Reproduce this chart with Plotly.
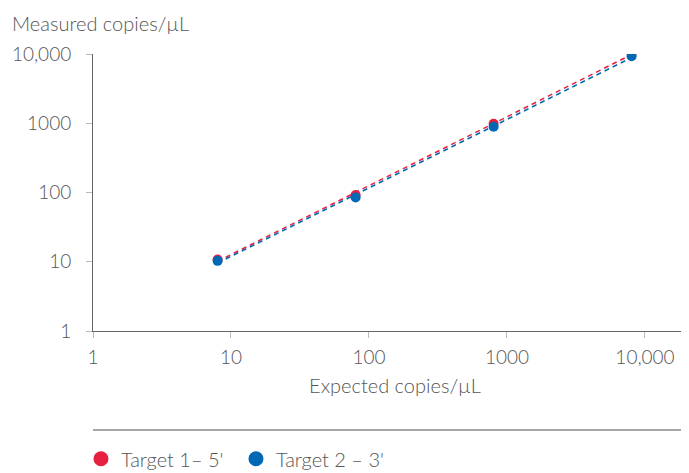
import numpy as np
import plotly.graph_objects as go

expected = [8, 80, 800, 8000]
target1 = [10.8, 92, 980, 10200]
target2 = [10.3, 85, 890, 9300]
names = ["Target 1– 5'", "Target 2 – 3'"]
colors = ["#E8203F", "#0068B5"]
tickvals = [1, 10, 100, 1000, 10000]
ticktext = ["1", "10", "100", "1000", "10,000"]

FONT = "Lato"
GREY = "#555555"
FS = 19

fig = go.Figure()
for vals, name, col in zip([target1, target2], names, colors):
    lx = np.log10(expected)
    ly = np.log10(vals)
    k, b = np.polyfit(lx, ly, 1)
    fit = 10 ** (k * lx + b)
    fig.add_trace(go.Scatter(x=expected, y=fit, mode="lines", showlegend=False,
                             line=dict(color=col, width=1.5, dash="5px,4px"), hoverinfo="skip"))
for vals, name, col in zip([target1, target2], names, colors):
    fig.add_trace(go.Scatter(x=expected, y=vals, mode="markers", name=name, showlegend=False,
                             marker=dict(color=col, size=10)))
# legend entries with larger symbols
for name, col in zip(names, colors):
    fig.add_trace(go.Scatter(x=[None], y=[None], mode="markers", name=name,
                             marker=dict(color=col, size=15)))

fig.update_layout(
    width=689, height=473,
    margin=dict(l=85, r=0, t=46, b=150),
    plot_bgcolor="white", paper_bgcolor="white",
    font=dict(family=FONT, color=GREY, size=FS, weight=300),
    xaxis=dict(type="log", range=[0, 4.377], tickvals=tickvals, ticktext=ticktext, automargin=False,
               showgrid=False, zeroline=False, showline=True, linecolor="#666666", linewidth=1,
               ticks="outside", ticklen=6, tickcolor="#bbbbbb", ticklabelstandoff=3,
               tickfont=dict(size=FS, weight=300),
               title=dict(text="Expected copies/µL", standoff=12, font=dict(size=20, weight=300))),
    yaxis=dict(type="log", range=[0, 4], tickvals=tickvals, ticktext=ticktext, automargin=False,
               showgrid=False, zeroline=False, showline=True, linecolor="#666666", linewidth=1,
               ticks="outside", ticklen=6, tickcolor="#bbbbbb", ticklabelstandoff=11,
               tickfont=dict(size=FS, weight=300)),
    legend=dict(orientation="h", x=-0.0199, xanchor="left", yref="container", y=0.047, yanchor="middle",
                font=dict(size=20, color=GREY, weight=300), itemwidth=30,
                entrywidth=110, entrywidthmode="pixels"),
    annotations=[dict(text="Measured copies/µL", xref="paper", yref="paper", x=-83/604, y=1.06,
                      xanchor="left", yanchor="bottom", showarrow=False,
                      font=dict(size=20, color=GREY, weight=300))],
    shapes=[dict(type="line", xref="paper", yref="paper", x0=0, x1=1, y0=-0.357, y1=-0.357,
                 line=dict(color="#888888", width=1.5))],
)
fig.write_html("out.html")
